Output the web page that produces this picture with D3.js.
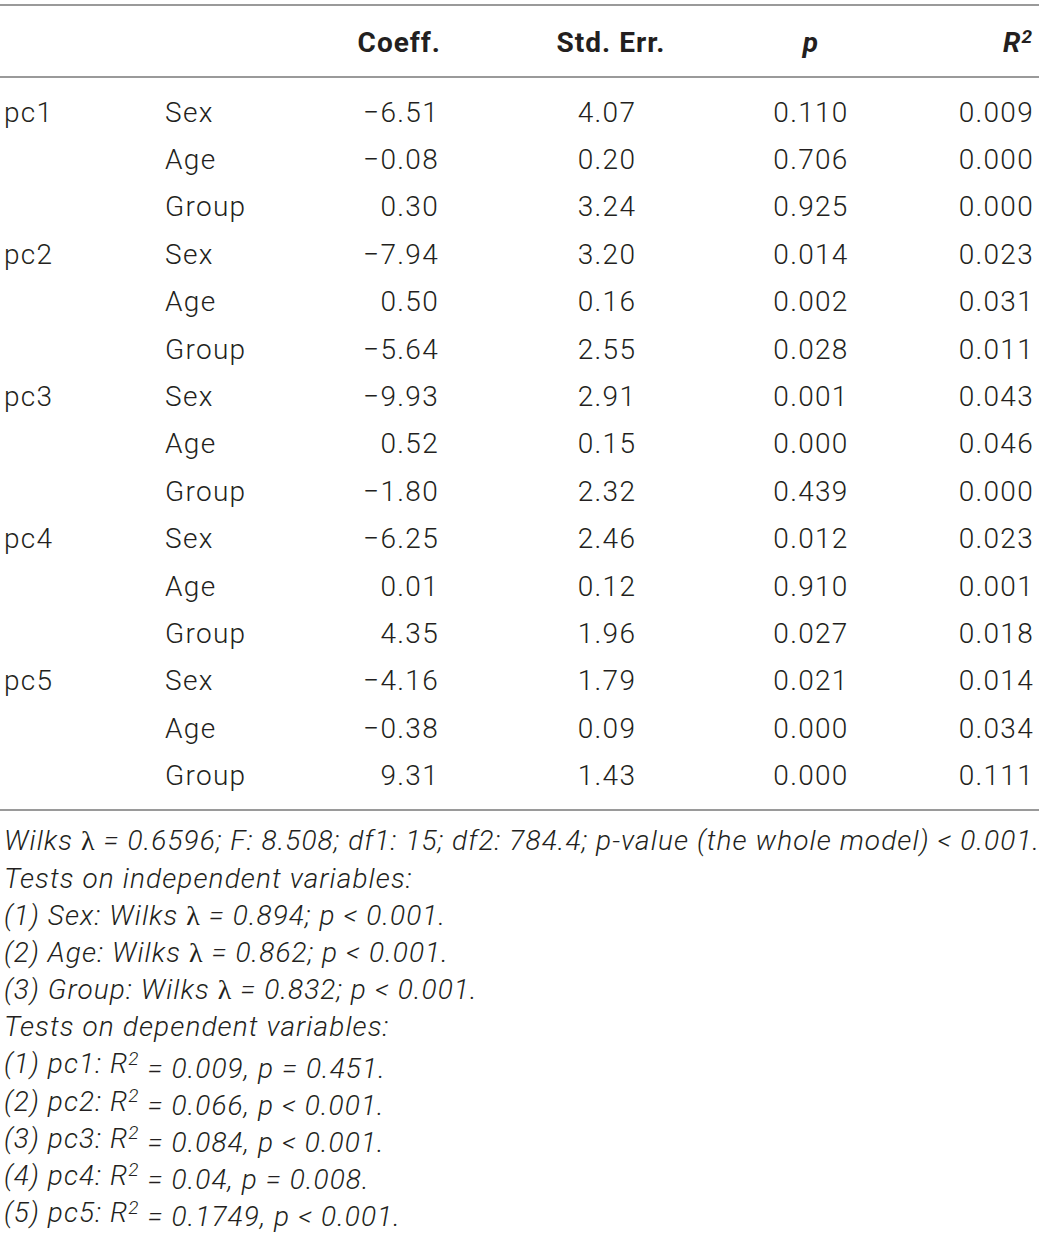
<!DOCTYPE html>
<html>
<head>
<meta charset="utf-8">
<title>MANOVA table</title>
<script src="https://cdnjs.cloudflare.com/ajax/libs/d3/7.8.5/d3.min.js"></script>
<style>
body { margin: 0; background: #fff; }
text { font-family: Roboto, "Liberation Sans", sans-serif; fill: #231f20; }
</style>
</head>
<body>
<div id="container"></div>
<script>
// table data
var components = ["pc1", "pc2", "pc3", "pc4", "pc5"];
var predictors = ["Sex", "Age", "Group"];
var coeff = ["\u22126.51", "\u22120.08", "0.30", "\u22127.94", "0.50", "\u22125.64", "\u22129.93", "0.52", "\u22121.80",
	"\u22126.25", "0.01", "4.35", "\u22124.16", "\u22120.38", "9.31"];
var stdErr = ["4.07", "0.20", "3.24", "3.20", "0.16", "2.55", "2.91", "0.15", "2.32",
	"2.46", "0.12", "1.96", "1.79", "0.09", "1.43"];
var pValues = ["0.110", "0.706", "0.925", "0.014", "0.002", "0.028", "0.001", "0.000", "0.439",
	"0.012", "0.910", "0.027", "0.021", "0.000", "0.000"];
var rSquared = ["0.009", "0.000", "0.000", "0.023", "0.031", "0.011", "0.043", "0.046", "0.000",
	"0.023", "0.001", "0.018", "0.014", "0.034", "0.111"];

// footnote lines, split where a lambda or R-squared superscript goes
var notes = [
	["Wilks ", "\u03bb", " = 0.6596; F: 8.508; df1: 15; df2: 784.4; p-value (the whole model) < 0.001."],
	["Tests on independent variables:"],
	["(1) Sex: Wilks ", "\u03bb", " = 0.894; p < 0.001."],
	["(2) Age: Wilks ", "\u03bb", " = 0.862; p < 0.001."],
	["(3) Group: Wilks ", "\u03bb", " = 0.832; p < 0.001."],
	["Tests on dependent variables:"],
	["(1) pc1: R", "2", " = 0.009, p = 0.451."],
	["(2) pc2: R", "2", " = 0.066, p < 0.001."],
	["(3) pc3: R", "2", " = 0.084, p < 0.001."],
	["(4) pc4: R", "2", " = 0.04, p = 0.008."],
	["(5) pc5: R", "2", " = 0.1749, p < 0.001."]
];

var W = 1039, H = 1233;
var svg = d3.select("#container")
	.append("svg")
	.attr("width", W)
	.attr("height", H);

var rows = d3.range(coeff.length);
var y = d3.scaleBand().domain(rows).range([88, 799]);
var yNote = d3.scaleBand().domain(d3.range(notes.length)).range([822, 1231]);

//rules
[5, 77, 810].forEach(function(yy) {
	svg.append("line")
		.attr("x1", 0).attr("x2", W)
		.attr("y1", yy).attr("y2", yy)
		.attr("stroke", "#9a9a9a")
		.attr("stroke-width", 2);
});

//header
var headY = 42;
var head = svg.append("g").style("font-weight", "700").style("font-size", "28px").style("letter-spacing", "1px");
head.append("text").attr("x", 441).attr("y", headY).attr("dy", "0.35em")
	.attr("text-anchor", "end").text("Coeff.");
head.append("text").attr("x", 611).attr("y", headY).attr("dy", "0.35em")
	.attr("text-anchor", "middle").text("Std. Err.");
head.append("text").attr("x", 811).attr("y", headY).attr("dy", "0.35em")
	.attr("text-anchor", "middle").style("font-style", "italic").text("p");
var r2h = head.append("text").attr("x", 1033).attr("y", headY).attr("dy", "0.35em")
	.attr("text-anchor", "end").style("font-style", "italic");
r2h.append("tspan").text("R");
r2h.append("tspan").attr("dy", "-0.45em").style("font-size", "19px").text("2");

//body
var body = svg.append("g").style("font-weight", "300").style("font-size", "28px").style("letter-spacing", "1.3px");

body.selectAll(".comp")
	.data(components)
	.enter().append("text")
	.attr("class", "comp")
	.attr("x", 4)
	.attr("y", function(d, i) { return y(i * 3) + y.bandwidth() / 2; })
	.attr("dy", "0.35em")
	.text(function(d) { return d; });

body.selectAll(".pred")
	.data(rows)
	.enter().append("text")
	.attr("class", "pred")
	.attr("x", 165)
	.attr("y", function(d) { return y(d) + y.bandwidth() / 2; })
	.attr("dy", "0.35em")
	.text(function(d) { return predictors[d % 3]; });

var cols = [
	{ vals: coeff, x: 439, anchor: "end" },
	{ vals: stdErr, x: 607, anchor: "middle" },
	{ vals: pValues, x: 811, anchor: "middle" },
	{ vals: rSquared, x: 1034, anchor: "end" }
];
cols.forEach(function(c) {
	body.append("g").selectAll("text")
		.data(c.vals)
		.enter().append("text")
		.attr("x", c.x)
		.attr("y", function(d, i) { return y(i) + y.bandwidth() / 2; })
		.attr("dy", "0.35em")
		.attr("text-anchor", c.anchor)
		.text(function(d) { return d; });
});

//footnotes
var foot = svg.append("g").style("font-weight", "300").style("font-style", "italic")
	.style("font-size", "28px").style("letter-spacing", "1.1px");
var lines = foot.selectAll("text")
	.data(notes)
	.enter().append("text")
	.attr("x", 4)
	.attr("y", function(d, i) { return yNote(i) + yNote.bandwidth() / 2; })
	.attr("dy", "0.35em");
lines.append("tspan").text(function(d) { return d[0]; });
lines.filter(function(d) { return d.length > 1; })
	.each(function(d) {
		var t = d3.select(this);
		if (d[1] === "2") {
			t.append("tspan").attr("dy", "-0.45em").style("font-size", "19px").text("2");
			t.append("tspan").attr("dy", "0.45em").text(d[2]);
		} else {
			t.append("tspan").style("font-family", "'Liberation Serif', serif")
				.style("font-style", "normal").style("font-weight", "400").text(d[1]);
			t.append("tspan").text(d[2]);
		}
	});
</script>
</body>
</html>
